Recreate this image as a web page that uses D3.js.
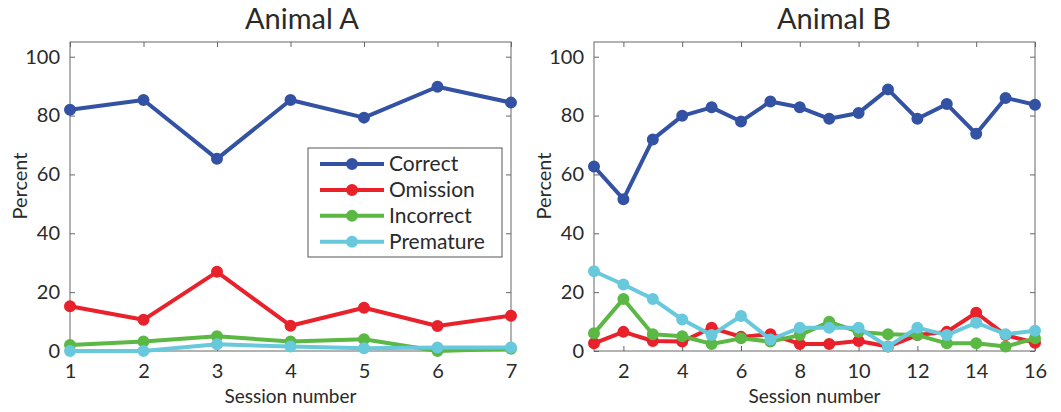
<!DOCTYPE html>
<meta charset="utf-8">
<style>
body { margin: 0; background: #fff; }
text { font-family: Lato, "Open Sans", sans-serif; fill: #2a2a2a; }
.axis path, .axis line { stroke: #666; }
</style>
<svg width="1061" height="412"></svg>
<script src="https://d3js.org/d3.v7.min.js"></script>
<script>

// data
var seriesNames = ["Correct", "Omission", "Incorrect", "Premature"];
var colors = ["#3352a4", "#e8212b", "#5bb844", "#68c9dc"];

var sessionsA = [1, 2, 3, 4, 5, 6, 7];
var correctA   = [82, 85.3, 65.3, 85.3, 79.3, 89.8, 84.4];
var omissionA  = [15.2, 10.6, 26.9, 8.6, 14.7, 8.5, 12];
var incorrectA = [2, 3.2, 5, 3.2, 4, 0, 0.8];
var prematureA = [0, 0, 2.3, 1.5, 0.9, 1.2, 1.2];

var sessionsB = [1, 2, 3, 4, 5, 6, 7, 8, 9, 10, 11, 12, 13, 14, 15, 16];
var correctB   = [62.7, 51.6, 71.9, 79.9, 82.8, 78, 84.8, 82.8, 78.9, 80.9, 88.9, 78.9, 83.9, 73.8, 86, 83.7];
var omissionB  = [2.6, 6.5, 3.4, 3.2, 7.9, 4.8, 5.7, 2.4, 2.4, 3.4, 1.5, 5.4, 6.5, 13, 5.4, 2.8];
var incorrectB = [6, 17.7, 5.7, 5, 2.4, 4.3, 3.2, 5.4, 9.9, 6.5, 5.7, 5.4, 2.6, 2.6, 1.5, 4.3];
var prematureB = [27.1, 22.6, 17.7, 10.7, 5.4, 11.9, 3.9, 7.9, 7.9, 7.9, 1.5, 7.9, 5.4, 9.6, 5.7, 6.9];

var yTicks = [0, 20, 40, 60, 80, 100];
var xTicksA = [1, 2, 3, 4, 5, 6, 7];
var xTicksB = [2, 4, 6, 8, 10, 12, 14, 16];

var svg = d3.select("svg");

function panel(opts) {
  var x = d3.scaleLinear().domain(opts.xDomain).range([opts.left, opts.right]);
  var y = d3.scaleLinear().domain([0, 105]).range([351, 42]);
  var g = svg.append("g");

  // box
  g.append("rect")
    .attr("x", opts.left).attr("y", y(105))
    .attr("width", opts.right - opts.left).attr("height", y(0) - y(105))
    .attr("fill", "none").attr("stroke", "#666").attr("stroke-width", 1);

  // ticks point inward on all four sides
  g.append("g").attr("class", "axis")
    .attr("transform", "translate(" + opts.left + ",0)")
    .call(d3.axisLeft(y).tickValues(yTicks).tickSizeInner(-5).tickSizeOuter(0).tickPadding(10))
    .call(function(a) {
      a.select(".domain").remove();
      a.selectAll("text").style("font-size", "20px");
    });
  g.append("g").attr("class", "axis")
    .attr("transform", "translate(" + opts.right + ",0)")
    .call(d3.axisRight(y).tickValues(yTicks).tickSizeInner(-5).tickSizeOuter(0).tickFormat(""))
    .call(function(a) { a.select(".domain").remove(); });
  g.append("g").attr("class", "axis")
    .attr("transform", "translate(0," + y(0) + ")")
    .call(d3.axisBottom(x).tickValues(opts.xTicks).tickSizeInner(-5).tickSizeOuter(0).tickPadding(13).tickFormat(d3.format("d")))
    .call(function(a) {
      a.select(".domain").remove();
      a.selectAll("text").style("font-size", "20px");
    });
  g.append("g").attr("class", "axis")
    .attr("transform", "translate(0," + y(105) + ")")
    .call(d3.axisTop(x).tickValues(opts.xTicks).tickSizeInner(-5).tickSizeOuter(0).tickFormat(""))
    .call(function(a) { a.select(".domain").remove(); });

  // titles and labels
  g.append("text")
    .attr("x", opts.titleX).attr("y", 29)
    .attr("text-anchor", "middle").style("font-size", "29px")
    .text(opts.title);
  g.append("text")
    .attr("x", (opts.left + opts.right) / 2).attr("y", 403)
    .attr("text-anchor", "middle").style("font-size", "19px")
    .text("Session number");
  g.append("text")
    .attr("transform", "translate(" + (opts.left - 43) + ",186) rotate(-90)")
    .attr("text-anchor", "middle").style("font-size", "20px")
    .text("Percent");

  var line = d3.line()
    .x(function(d, i) { return x(opts.sessions[i]); })
    .y(function(d) { return y(d); });

  opts.series.forEach(function(vals, k) {
    g.append("path")
      .datum(vals)
      .attr("d", line)
      .attr("fill", "none")
      .attr("stroke", colors[k])
      .attr("stroke-width", 4)
      .attr("stroke-linejoin", "round");
    g.selectAll(null)
      .data(vals)
      .enter().append("circle")
      .attr("cx", function(d, i) { return x(opts.sessions[i]); })
      .attr("cy", function(d) { return y(d); })
      .attr("r", 5)
      .attr("fill", colors[k])
      .attr("stroke", colors[k])
      .attr("stroke-width", 2);
  });
  return g;
}

panel({
  title: "Animal A", xDomain: [1, 7], left: 70, right: 511, xTicks: xTicksA, titleX: 302,
  sessions: sessionsA, series: [correctA, omissionA, incorrectA, prematureA]
});
panel({
  title: "Animal B", xDomain: [1, 16], left: 594, right: 1035, xTicks: xTicksB, titleX: 834,
  sessions: sessionsB, series: [correctB, omissionB, incorrectB, prematureB]
});

// legend on the left panel
var legend = svg.append("g");
legend.append("rect")
  .attr("x", 308).attr("y", 148).attr("width", 194).attr("height", 109)
  .attr("fill", "#fff").attr("stroke", "#555").attr("stroke-width", 1);
var item = legend.selectAll("g")
  .data(seriesNames)
  .enter().append("g")
  .attr("transform", function(d, i) { return "translate(0," + (164 + i * 25.9) + ")"; });
item.append("line")
  .attr("x1", 320).attr("x2", 384).attr("y1", 0).attr("y2", 0)
  .attr("stroke", function(d, i) { return colors[i]; })
  .attr("stroke-width", 4);
item.append("circle")
  .attr("cx", 352).attr("cy", 0).attr("r", 5)
  .attr("fill", function(d, i) { return colors[i]; })
  .attr("stroke", function(d, i) { return colors[i]; })
  .attr("stroke-width", 2);
item.append("text")
  .attr("x", 389).attr("y", 0).attr("dy", "0.35em")
  .style("font-size", "21px")
  .text(function(d) { return d; });

</script>
